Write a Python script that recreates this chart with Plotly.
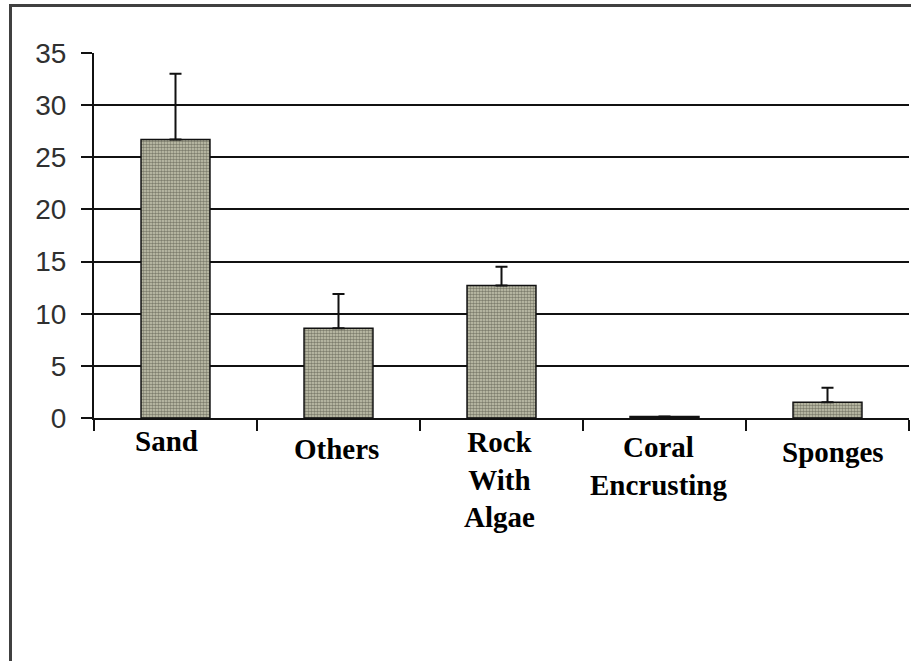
import plotly.graph_objects as go

categories = ["Sand", "Others", "Rock With Algae", "Coral Encrusting", "Sponges"]
label_lines = ["Sand", "Others", "Rock<br>With<br>Algae", "Coral<br>Encrusting", "Sponges"]
means = [26.7, 8.6, 12.7, 0.15, 1.5]
errors_plus = [6.3, 3.3, 1.8, 0.0, 1.4]
y_ticks = [0, 5, 10, 15, 20, 25, 30, 35]

# label offsets (layout only), in px
label_dx = [-9, -2, -2, -6, 5]
label_dy = [-5, -13, -6, -11, -16]

fig = go.Figure()
fig.add_trace(go.Bar(
    x=categories, y=means,
    marker=dict(
        color="#c8c8b2",
        line=dict(color="#111111", width=1.5),
        pattern=dict(shape=".", fgcolor="#34342a", bgcolor="#c8c8b2", size=3, solidity=0.55),
    ),
    error_y=dict(type="data", array=errors_plus, arrayminus=[0] * len(errors_plus),
                 symmetric=False, color="#111111", thickness=2, width=6),
))

for c, t, dx, dy in zip(categories, label_lines, label_dx, label_dy):
    fig.add_annotation(x=c, xref="x", y=0, yref="paper", yanchor="top", text=t,
                       showarrow=False, xshift=dx, yshift=dy,
                       font=dict(family="Liberation Serif", size=29, color="#000000", weight="bold"))

fig.add_shape(type="rect", xref="paper", yref="paper",
              x0=(10.5 - 94) / 815, x1=1.2, y0=-1.0, y1=1 + (53 - 5.5) / 365,
              line=dict(color="#404040", width=3), fillcolor="rgba(0,0,0,0)", layer="below")

fig.update_layout(
    width=911, height=661,
    margin=dict(l=94, r=2, t=53, b=243),
    paper_bgcolor="white", plot_bgcolor="white",
    showlegend=False, bargap=0.577,
    xaxis=dict(range=[-0.5, 4.5], showticklabels=False, ticks="outside", tickson="boundaries",
               ticklen=11, tickwidth=2, tickcolor="#111111",
               showline=True, linecolor="#111111", linewidth=2, showgrid=False),
    yaxis=dict(range=[0, 35], tickvals=y_ticks, ticks="outside", ticklen=11, tickwidth=2,
               tickcolor="#111111", showline=True, linecolor="#111111", linewidth=2,
               showgrid=True, gridcolor="#111111", gridwidth=2, zeroline=False,
               ticklabelstandoff=9,
               tickfont=dict(family="Liberation Sans", size=28, color="#303030")),
)

fig.write_html("out.html", config={"displayModeBar": False},
               post_script="document.body.style.margin='0';document.body.style.overflow='hidden';")
